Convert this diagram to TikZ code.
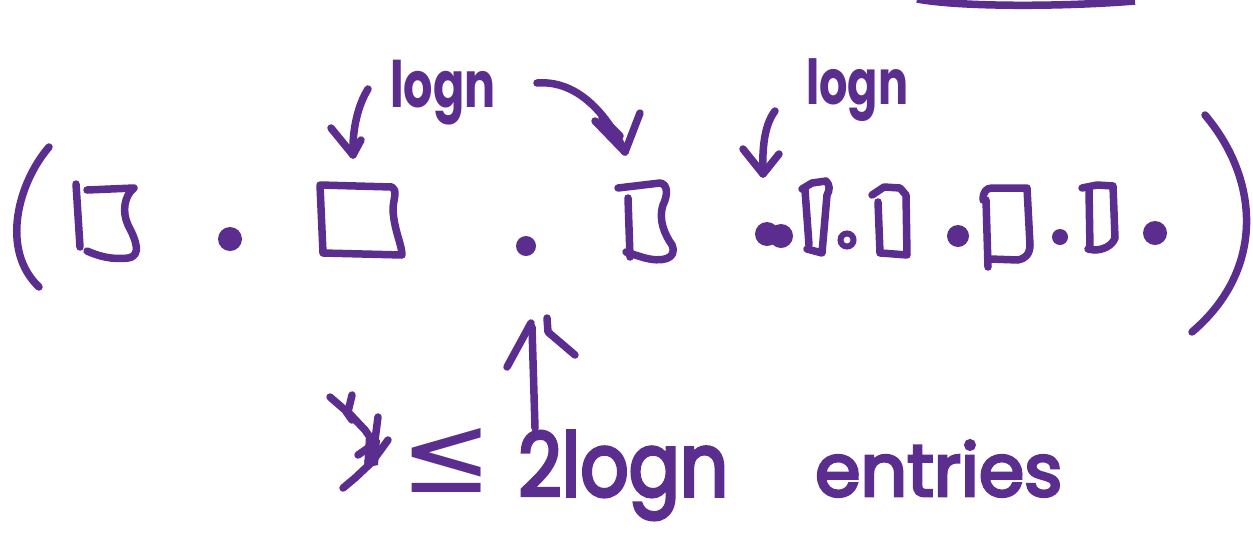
\documentclass[tikz,border=0pt]{standalone}
\usepackage{fontspec}
\newfontfamily\handfont{Poppins}
\newfontfamily\handthick{Poppins}[FakeBold=4]
\newfontfamily\symbfont{DejaVu Sans}
\definecolor{ink}{RGB}{90,45,142}
\tikzset{
  pen/.style={draw=ink, line width=7.5pt, line cap=round, line join=round},
  ring/.style={draw=ink, line width=6pt},
  hand/.style={text=ink, inner sep=0pt, anchor=base west},
}
\begin{document}
\begin{tikzpicture}[x=1pt, y=-1pt]
\useasboundingbox (0,0) rectangle (1253,542);
% top stroke (cut off)
\draw[pen, line cap=butt] (917,-1) .. controls (960,7) and (1060,7) .. (1135,1);
% parentheses
\draw[pen] (49,147) .. controls (18,183) and (0,250) .. (39,287);
\draw[pen] (1205,115) .. controls (1260,180) and (1265,270) .. (1192,332);
% box 1
\draw[pen] (76,184) -- (80,247);
\draw[pen] (87,190) -- (134,188) .. controls (124,196) and (122,212) .. (128,225)
  .. controls (136,240) and (142,256) .. (128,258) .. controls (112,260) and (98,256) .. (87,251);
\fill[ink] (230,239) circle (12);
% box 2
\draw[pen] (320,185) -- (392,187) .. controls (398,190) and (393,200) .. (393,210)
  .. controls (394,230) and (402,245) .. (402,255) -- (323,253) -- cycle;
\fill[ink] (526,246) circle (10);
% box 3
\draw[pen] (618,188) -- (660,183) .. controls (668,184) and (668,195) .. (663,205)
  .. controls (658,220) and (665,235) .. (672,245) .. controls (678,260) and (660,262) .. (645,258)
  .. controls (638,256) and (632,254) .. (626,252);
\draw[pen] (628,198) -- (630,257);
% run of small boxes
\fill[ink] (767,234) circle (12) (781,236) circle (12);
\draw[pen] (802,189) -- (812,183) -- (826,181) .. controls (830,185) and (830,190) .. (827,195) -- (822,253) -- (807,249);
\draw[pen] (805,190) -- (809,245);
\draw[ring] (847,240) circle (6.5);
\draw[pen] (872,195) -- (884,187) -- (900,188) -- (906,195) -- (907,255) -- (881,253);
\draw[pen] (878,202) -- (880,253);
\fill[ink] (958,236) circle (11);
\draw[pen] (983,200) .. controls (983,192) and (986,188) .. (992,188) -- (1027,188) -- (1030,245)
  .. controls (1030,254) and (1025,259) .. (1018,260) -- (990,259);
\draw[pen] (986,200) -- (988,267);
\fill[ink] (1060,237) circle (8);
\draw[pen] (1082,188) -- (1097,185) -- (1113,186) -- (1115,238) .. controls (1112,246) and (1103,250) .. (1094,250) -- (1088,249);
\draw[pen] (1089,190) -- (1090,249);
\fill[ink] (1155,233) circle (12);
% arrows
\coordinate (t1) at (368,89);  \coordinate (h1) at (353,155);
\draw[pen] (t1) .. controls (358,105) and (352,130) .. (h1);
\draw[pen] (331,128) -- (h1) -- (361,140);
\coordinate (t2) at (537,83);  \coordinate (h2) at (625,152);
\draw[pen] (t2) .. controls (575,80) and (605,110) .. (h2);
\draw[pen] (595,121) -- (h2) -- (640,113);
\draw[pen] (602,118) -- (620,136);
\coordinate (t3) at (775,111); \coordinate (h3) at (763,174);
\draw[pen] (t3) .. controls (764,125) and (762,150) .. (h3);
\draw[pen] (743,149) -- (h3) -- (779,154);
\coordinate (t4) at (535,428); \coordinate (h4) at (532,327);
\draw[pen] (t4) -- (h4);
\draw[pen] (507,367) -- (531,323);
\draw[pen] (547,318) -- (548,332) -- (575,355);
% scribble
\draw[pen] (330,397) -- (345,410) -- (352,420);
\draw[pen] (352,395) -- (348,412) -- (365,430) -- (372,440);
\draw[pen] (378,417) -- (375,440) -- (368,462);
\draw[pen] (388,440) -- (372,462) -- (355,478) -- (343,488);
\draw[pen] (358,455) -- (368,448);
\fill[ink] (366,435) -- (380,440) -- (378,465) -- (364,468) -- cycle;
% texts
\node[hand, font=\handfont\bfseries\fontsize{64}{64}\selectfont, xscale=0.72] (lg1) at (390,107) {logn};
\node[hand, font=\handfont\bfseries\fontsize{62}{62}\selectfont, xscale=0.72] (lg2) at (806,104) {logn};
\node[hand, font=\symbfont\fontsize{110}{110}\selectfont] (le) at (400,492) {≤};
\node[hand, font=\handthick\fontsize{88}{88}\selectfont, xscale=0.86] (lg3) at (518,496) {2logn};
\node[hand, font=\handthick\fontsize{73}{73}\selectfont] (en) at (815,496) {entries};
\end{tikzpicture}
\end{document}
